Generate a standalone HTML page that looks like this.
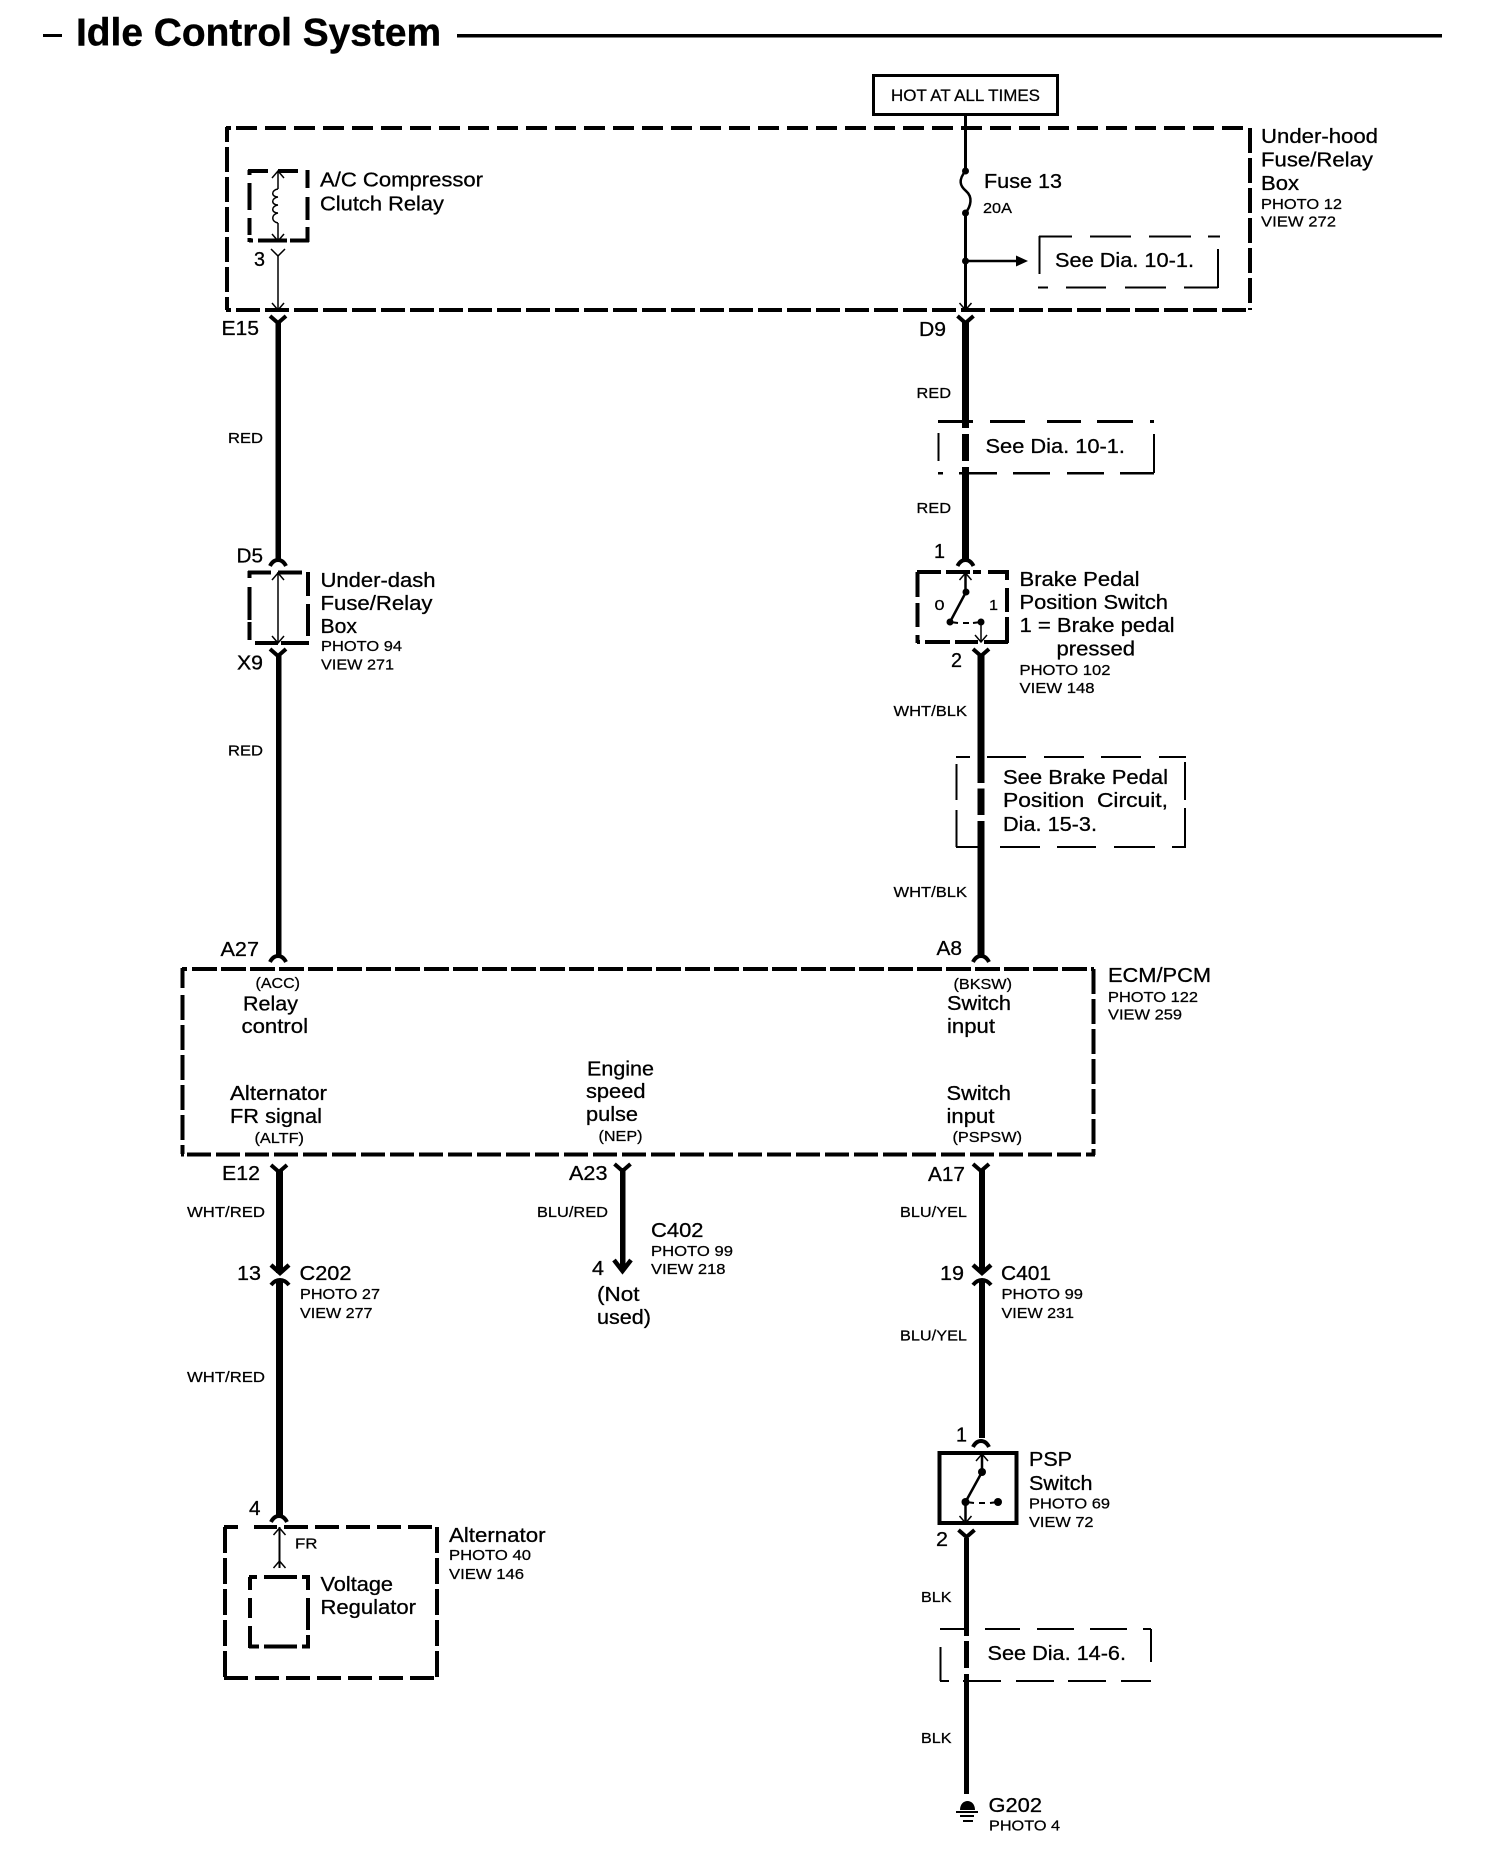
<!DOCTYPE html>
<html><head><meta charset="utf-8"><title>Idle Control System</title>
<style>
html,body{margin:0;padding:0;background:#fff}
svg{display:block}
text{font-family:"Liberation Sans",sans-serif;fill:#000;stroke:#000}
.t{font-size:39px;font-weight:bold;stroke-width:.4}
.m{font-size:20.5px;stroke-width:.3}
.s{font-size:15px;stroke-width:.25;transform:translateY(-1px)}
.h{font-size:16.5px;stroke-width:.25}
</style></head><body>
<svg width="1504" height="1852" viewBox="0 0 1504 1852" xmlns="http://www.w3.org/2000/svg">
<defs>
<path id="Y" d="M-8,0 L0,7 L8,0" fill="none" stroke="#000" stroke-width="4"/>
<path id="A" d="M-8,7 Q-5,1 0,1 Q5,1 8,7" fill="none" stroke="#000" stroke-width="4"/>
<path id="u" d="M-6,7 L0,0 L6,7" fill="none" stroke="#000" stroke-width="1.5"/>
<path id="d" d="M-6,-7 L0,0 L6,-7" fill="none" stroke="#000" stroke-width="1.5"/>
</defs>
<rect width="1504" height="1852" fill="#fff"/>

<!-- title -->
<rect x="43" y="34" width="19" height="3"/>
<text class="t" x="76" y="45.5" textLength="365" lengthAdjust="spacingAndGlyphs">Idle Control System</text>
<rect x="457" y="34" width="985" height="3.5"/>

<!-- hot box -->
<rect x="873.5" y="75.5" width="184" height="39" fill="none" stroke="#000" stroke-width="3"/>
<text class="h" x="891" y="101" textLength="149" lengthAdjust="spacingAndGlyphs">HOT AT ALL TIMES</text>

<g fill="none" stroke="#000" shape-rendering="crispEdges">
<!-- outer under-hood -->
<g stroke-width="4">
<path d="M236,128 H1250" stroke-dasharray="21 8"/>
<path d="M226,128 H231"/>
<path d="M227,127 V142"/>
<path d="M227,147 V310" stroke-dasharray="25 5"/>
<path d="M1250,128 V310" stroke-dasharray="25 5"/>
<path d="M236,310 H1251" stroke-dasharray="24 5"/>
<path d="M226,310 H231"/>
</g>
<!-- relay box -->
<g stroke-width="4">
<path d="M248,171 H268 M278,171 H298"/>
<path d="M307.5,170 V188 M307.5,197 V220 M307.5,227 V242"/>
<path d="M249.5,170 V175 M249.5,183 V210 M249.5,218 V235 M249.5,238 V242"/>
<path d="M249,240.5 H253 M258,240.5 H287 M290,240.5 H309"/>
</g>
<!-- under-dash box -->
<g stroke-width="4">
<path d="M248,572.5 H271 M278,572.5 H302"/>
<path d="M249.5,571 V578 M249.5,587 V620 M249.5,622 V640"/>
<path d="M308,572 V596 M308,604 V636"/>
<path d="M255,643 H278 M281,643 H309"/>
</g>
<!-- brake box -->
<g stroke-width="4">
<path d="M917,572 H941 M946,572 H970 M973,572 H981 M988,572 H1008"/>
<path d="M917.5,572 V597 M917.5,603 V627 M917.5,635 V643"/>
<path d="M1007,570 V580 M1007,588 V612 M1007,617 V643"/>
<path d="M917,642 H920 M925,642 H950 M955,642 H978 M984,642 H1008"/>
</g>
<!-- see dia boxes -->
<g stroke-width="2">
<path d="M1039,236.5 H1072 M1090,236.5 H1131 M1149,236.5 H1191 M1208,236.5 H1220"/>
<path d="M1039.5,236 V274"/>
<path d="M1218,249 V288"/>
<path d="M1038,287.5 H1048 M1066,287.5 H1106 M1125,287.5 H1166 M1184,287.5 H1218"/>

<path d="M938,421.5 H973 M990,421.5 H1025 M1047,421.5 H1081 M1097,421.5 H1133 M1150,421.5 H1154" stroke-width="3"/>
<path d="M938.5,433 V461"/>
<path d="M1154,434 V473"/>
<path d="M938,473 H943 M959,473 H997 M1013,473 H1050 M1067,473 H1104 M1120,473 H1154" stroke-width="2.5"/>

<path d="M956,757 H970 M987,757 H1026 M1044,757 H1084 M1101,757 H1141 M1159,757 H1186"/>
<path d="M956.5,764 V800 M956.5,810 V847"/>
<path d="M1185,762 V800 M1185,808 V847"/>
<path d="M956,847 H982 M1000,847 H1040 M1057,847 H1096 M1114,847 H1155 M1172,847 H1186"/>

<path d="M940,1629 H965 M985,1629 H1020 M1037,1629 H1074 M1090,1629 H1127 M1143,1629 H1151"/>
<path d="M940.5,1647 V1681"/>
<path d="M1151,1629 V1662"/>
<path d="M940,1681 H949 M963,1681 H1001 M1016,1681 H1054 M1068,1681 H1106 M1121,1681 H1151"/>
</g>
<!-- ECM -->
<g stroke-width="4">
<path d="M192,969 H1094" stroke-dasharray="25 4"/>
<path d="M182,969 H187"/>
<path d="M182.5,968 V988"/>
<path d="M182.5,995 V1154" stroke-dasharray="25 5"/>
<path d="M1093.5,969 V1155" stroke-dasharray="25 5"/>
<path d="M187,1154.5 H1095" stroke-dasharray="24 5"/>
<path d="M181,1154.5 H184"/>
</g>
<!-- alternator -->
<g stroke-width="4">
<path d="M224,1527 H238 M254,1527 H277 M284,1527 H437" stroke-dasharray="24 7"/>
<path d="M225,1527 V1678" stroke-dasharray="26 5"/>
<path d="M437,1527 V1678" stroke-dasharray="26 5"/>
<path d="M224,1678 H438" stroke-dasharray="24 7"/>
</g>
<g stroke-width="4">
<path d="M249,1577 H257 M264,1577 H297 M302,1577 H310"/>
<path d="M250,1577 V1590 M250,1598 V1618 M250,1626 V1648"/>
<path d="M308,1577 V1590 M308,1598 V1630 M308,1635 V1648"/>
<path d="M249,1646.5 H259 M264,1646.5 H297 M302,1646.5 H310"/>
</g>
<!-- PSP box -->
<rect x="939.5" y="1453" width="77" height="70" stroke-width="4"/>
</g>

<!-- wires -->
<g fill="#000" shape-rendering="crispEdges">
<rect x="275.5" y="322" width="5.5" height="240"/>
<rect x="276" y="654" width="5.5" height="304"/>
<rect x="962" y="322" width="7" height="106"/>
<rect x="962" y="434" width="7" height="27"/>
<rect x="962" y="467" width="7" height="93"/>
<rect x="977.5" y="654" width="7" height="129"/>
<rect x="977.5" y="788.5" width="7" height="26.5"/>
<rect x="977.5" y="821" width="7" height="136"/>
<rect x="276" y="1170" width="7" height="103"/>
<rect x="276" y="1281" width="7" height="237"/>
<rect x="620" y="1168" width="5.5" height="100"/>
<rect x="979" y="1170" width="6" height="103"/>
<rect x="979" y="1281" width="6" height="157"/>
<rect x="964" y="1538" width="5" height="98"/>
<rect x="964" y="1641" width="5" height="27"/>
<rect x="964" y="1674" width="5" height="120"/>
</g>

<!-- connectors -->
<use href="#Y" x="278" y="316"/>
<use href="#A" x="278" y="559"/>
<use href="#Y" x="278" y="649"/>
<use href="#A" x="278" y="955"/>
<use href="#Y" x="279" y="1165"/>
<use href="#A" x="279" y="1515"/>
<use href="#Y" x="622.5" y="1164"/>
<use href="#Y" x="981" y="1164"/>
<use href="#A" x="981" y="1440"/>
<use href="#Y" x="965.5" y="316"/>
<use href="#A" x="965.5" y="559"/>
<use href="#Y" x="981" y="649"/>
<use href="#A" x="981" y="955"/>
<use href="#Y" x="966.5" y="1530"/>
<path d="M614,1260 L622.5,1271 L631,1260" fill="none" stroke="#000" stroke-width="4.5"/>
<path d="M271,1265 L280,1273 L289,1265" fill="none" stroke="#000" stroke-width="4.5"/>
<path d="M271,1285 Q275,1280 280,1280 Q285,1280 289,1285" fill="none" stroke="#000" stroke-width="4"/>
<path d="M973,1265 L982,1273 L991,1265" fill="none" stroke="#000" stroke-width="4.5"/>
<path d="M973,1285 Q977,1280 982,1280 Q987,1280 991,1285" fill="none" stroke="#000" stroke-width="4"/>

<!-- relay internals -->
<g fill="none" stroke="#000">
<path d="M278,171 V189 M278,223 V241 M278,256 V310" stroke-width="1.5"/>
<path d="M278,189 C271,190 271,197 278,197 C271,198 271,205 278,205 C271,206 271,213 278,213 C271,214 271,222 278,223" stroke-width="1.5"/>
<path d="M278,572 V643" stroke-width="1.5"/>
<path d="M965.5,116 V171 M965.5,213 V310" stroke-width="3"/>
<path d="M965.5,171 C958,180 960,186 966,191 C973,197 971,206 965.5,213" stroke-width="2.5"/>
<path d="M966,261 H1018" stroke-width="2.5"/>
<path d="M965.5,572 V592 M966,592 L950,622" stroke-width="2.5"/>
<path d="M950,622 L958,623 M963,623 H969 M973,623 L981,622" stroke-width="2"/>
<path d="M981,622 V642" stroke-width="1.5"/>
<path d="M982,1453 V1472 L965.5,1502 V1523" stroke-width="2.5"/>
<path d="M966,1502 L974,1503 M979,1503 H985 M990,1503 L998,1502" stroke-width="2"/>
<path d="M279.5,1527 V1568" stroke-width="2"/>
</g>
<use href="#u" x="278" y="171"/>
<use href="#d" x="278" y="241"/>
<path d="M271,249 L278,256 L285,249" fill="none" stroke="#000" stroke-width="1.5"/>
<use href="#d" x="278" y="310"/>
<use href="#u" x="278" y="573"/>
<use href="#d" x="278" y="643"/>
<use href="#d" x="965.5" y="310"/>
<use href="#u" x="965.5" y="573"/>
<use href="#d" x="981" y="642"/>
<use href="#u" x="982" y="1454"/>
<use href="#d" x="965.5" y="1523"/>
<use href="#u" x="279.5" y="1528"/>
<use href="#u" x="279.5" y="1561"/>
<g fill="#000">
<circle cx="965.5" cy="171" r="3.5"/>
<circle cx="965.5" cy="213" r="3.5"/>
<circle cx="965.5" cy="261" r="3.5"/>
<path d="M1016,255.5 L1028,261 L1016,266.5 Z"/>
<circle cx="966" cy="592" r="3.5"/>
<circle cx="950" cy="622" r="3.5"/>
<circle cx="981" cy="622" r="3.5"/>
<circle cx="982" cy="1472" r="4"/>
<circle cx="965.5" cy="1502" r="4"/>
<circle cx="998" cy="1502" r="4"/>
<!-- ground -->
<path d="M960,1810 C960,1798 975,1798 975,1810 Z"/>
<rect x="956" y="1811" width="22" height="2"/>
<rect x="960" y="1815" width="14" height="2"/>
<rect x="963" y="1820" width="10" height="2"/>
</g>

<!-- labels -->
<text class="m" x="320" y="186.5" textLength="163" lengthAdjust="spacingAndGlyphs">A/C Compressor</text>
<text class="m" x="320" y="210.5" textLength="124" lengthAdjust="spacingAndGlyphs">Clutch Relay</text>
<text class="m" x="254" y="266" textLength="11" lengthAdjust="spacingAndGlyphs">3</text>
<text class="m" x="221.5" y="335" textLength="37.5" lengthAdjust="spacingAndGlyphs">E15</text>
<text class="s" x="228" y="444" textLength="35" lengthAdjust="spacingAndGlyphs">RED</text>
<text class="m" x="236.5" y="562.5" textLength="26.5" lengthAdjust="spacingAndGlyphs">D5</text>
<text class="m" x="320.5" y="587" textLength="115" lengthAdjust="spacingAndGlyphs">Under-dash</text>
<text class="m" x="320.5" y="610" textLength="112" lengthAdjust="spacingAndGlyphs">Fuse/Relay</text>
<text class="m" x="320.5" y="633" textLength="36.5" lengthAdjust="spacingAndGlyphs">Box</text>
<text class="s" x="321" y="652" textLength="81" lengthAdjust="spacingAndGlyphs">PHOTO 94</text>
<text class="s" x="321" y="670.5" textLength="73" lengthAdjust="spacingAndGlyphs">VIEW 271</text>
<text class="m" x="237" y="669.5" textLength="26" lengthAdjust="spacingAndGlyphs">X9</text>
<text class="s" x="228" y="756.5" textLength="35" lengthAdjust="spacingAndGlyphs">RED</text>
<text class="m" x="220.5" y="956" textLength="38.5" lengthAdjust="spacingAndGlyphs">A27</text>

<text class="m" x="984" y="188" textLength="78" lengthAdjust="spacingAndGlyphs">Fuse 13</text>
<text class="s" x="983" y="214" textLength="29" lengthAdjust="spacingAndGlyphs">20A</text>
<text class="m" x="1055" y="267" textLength="139" lengthAdjust="spacingAndGlyphs">See Dia. 10-1.</text>
<text class="m" x="1261" y="143" textLength="117" lengthAdjust="spacingAndGlyphs">Under-hood</text>
<text class="m" x="1261" y="166.5" textLength="112" lengthAdjust="spacingAndGlyphs">Fuse/Relay</text>
<text class="m" x="1261" y="190" textLength="38" lengthAdjust="spacingAndGlyphs">Box</text>
<text class="s" x="1261" y="210" textLength="81" lengthAdjust="spacingAndGlyphs">PHOTO 12</text>
<text class="s" x="1261" y="227.5" textLength="75" lengthAdjust="spacingAndGlyphs">VIEW 272</text>
<text class="m" x="919" y="336" textLength="27" lengthAdjust="spacingAndGlyphs">D9</text>
<text class="s" x="916.5" y="399" textLength="34.5" lengthAdjust="spacingAndGlyphs">RED</text>
<text class="m" x="985.5" y="453" textLength="139.5" lengthAdjust="spacingAndGlyphs">See Dia. 10-1.</text>
<text class="s" x="916.5" y="514" textLength="34.5" lengthAdjust="spacingAndGlyphs">RED</text>
<text class="m" x="934" y="558" textLength="11" lengthAdjust="spacingAndGlyphs">1</text>
<text class="m" x="1019.5" y="586" textLength="120" lengthAdjust="spacingAndGlyphs">Brake Pedal</text>
<text class="m" x="1019.5" y="609" textLength="148.5" lengthAdjust="spacingAndGlyphs">Position Switch</text>
<text class="m" x="1019.5" y="632" textLength="155" lengthAdjust="spacingAndGlyphs">1 = Brake pedal</text>
<text class="m" x="1056.5" y="655.5" textLength="78.5" lengthAdjust="spacingAndGlyphs">pressed</text>
<text class="s" x="1019.5" y="676" textLength="91" lengthAdjust="spacingAndGlyphs">PHOTO 102</text>
<text class="s" x="1019.5" y="694" textLength="75" lengthAdjust="spacingAndGlyphs">VIEW 148</text>
<text class="s" x="934.5" y="611" textLength="10" lengthAdjust="spacingAndGlyphs">0</text>
<text class="s" x="989" y="611" textLength="9" lengthAdjust="spacingAndGlyphs">1</text>
<text class="m" x="951" y="667" textLength="11" lengthAdjust="spacingAndGlyphs">2</text>
<text class="s" x="893.5" y="717" textLength="73.5" lengthAdjust="spacingAndGlyphs">WHT/BLK</text>
<text class="m" x="1003" y="784" textLength="165" lengthAdjust="spacingAndGlyphs">See Brake Pedal</text>
<text class="m" x="1003" y="807" textLength="165" lengthAdjust="spacingAndGlyphs">Position&#160; Circuit,</text>
<text class="m" x="1003" y="831" textLength="94" lengthAdjust="spacingAndGlyphs">Dia. 15-3.</text>
<text class="s" x="893.5" y="898" textLength="73.5" lengthAdjust="spacingAndGlyphs">WHT/BLK</text>
<text class="m" x="936.5" y="955" textLength="25.5" lengthAdjust="spacingAndGlyphs">A8</text>

<text class="s" x="255.5" y="989" textLength="44.5" lengthAdjust="spacingAndGlyphs">(ACC)</text>
<text class="m" x="243" y="1010.5" textLength="55" lengthAdjust="spacingAndGlyphs">Relay</text>
<text class="m" x="241.5" y="1033" textLength="66.5" lengthAdjust="spacingAndGlyphs">control</text>
<text class="m" x="230" y="1100" textLength="97" lengthAdjust="spacingAndGlyphs">Alternator</text>
<text class="m" x="230" y="1123" textLength="92" lengthAdjust="spacingAndGlyphs">FR signal</text>
<text class="s" x="254.5" y="1144" textLength="49.5" lengthAdjust="spacingAndGlyphs">(ALTF)</text>
<text class="m" x="587" y="1075.5" textLength="67" lengthAdjust="spacingAndGlyphs">Engine</text>
<text class="m" x="586" y="1098" textLength="59.5" lengthAdjust="spacingAndGlyphs">speed</text>
<text class="m" x="586" y="1121" textLength="52" lengthAdjust="spacingAndGlyphs">pulse</text>
<text class="s" x="598.5" y="1142" textLength="44" lengthAdjust="spacingAndGlyphs">(NEP)</text>
<text class="s" x="953.5" y="990" textLength="58.5" lengthAdjust="spacingAndGlyphs">(BKSW)</text>
<text class="m" x="947" y="1010" textLength="64" lengthAdjust="spacingAndGlyphs">Switch</text>
<text class="m" x="947" y="1033" textLength="48" lengthAdjust="spacingAndGlyphs">input</text>
<text class="m" x="946.5" y="1100" textLength="64.5" lengthAdjust="spacingAndGlyphs">Switch</text>
<text class="m" x="946.5" y="1123" textLength="48" lengthAdjust="spacingAndGlyphs">input</text>
<text class="s" x="952.5" y="1143" textLength="69.5" lengthAdjust="spacingAndGlyphs">(PSPSW)</text>
<text class="m" x="1108" y="982" textLength="103" lengthAdjust="spacingAndGlyphs">ECM/PCM</text>
<text class="s" x="1108" y="1003" textLength="90" lengthAdjust="spacingAndGlyphs">PHOTO 122</text>
<text class="s" x="1108" y="1020.5" textLength="74" lengthAdjust="spacingAndGlyphs">VIEW 259</text>

<text class="m" x="222" y="1180" textLength="38" lengthAdjust="spacingAndGlyphs">E12</text>
<text class="m" x="569" y="1180" textLength="38.5" lengthAdjust="spacingAndGlyphs">A23</text>
<text class="m" x="928" y="1181" textLength="37" lengthAdjust="spacingAndGlyphs">A17</text>
<text class="s" x="187" y="1218" textLength="78" lengthAdjust="spacingAndGlyphs">WHT/RED</text>
<text class="s" x="537" y="1218" textLength="71" lengthAdjust="spacingAndGlyphs">BLU/RED</text>
<text class="s" x="900" y="1218" textLength="67" lengthAdjust="spacingAndGlyphs">BLU/YEL</text>
<text class="m" x="237" y="1280" textLength="24" lengthAdjust="spacingAndGlyphs">13</text>
<text class="m" x="299.5" y="1280" textLength="52" lengthAdjust="spacingAndGlyphs">C202</text>
<text class="s" x="300" y="1300" textLength="80" lengthAdjust="spacingAndGlyphs">PHOTO 27</text>
<text class="s" x="300" y="1319" textLength="72.5" lengthAdjust="spacingAndGlyphs">VIEW 277</text>
<text class="s" x="187" y="1383" textLength="78" lengthAdjust="spacingAndGlyphs">WHT/RED</text>
<text class="m" x="249" y="1515" textLength="11.5" lengthAdjust="spacingAndGlyphs">4</text>
<text class="s" x="295" y="1549.5" textLength="22.5" lengthAdjust="spacingAndGlyphs">FR</text>
<text class="m" x="320.5" y="1591" textLength="72.5" lengthAdjust="spacingAndGlyphs">Voltage</text>
<text class="m" x="320.5" y="1614" textLength="95.5" lengthAdjust="spacingAndGlyphs">Regulator</text>
<text class="m" x="449" y="1542" textLength="96.5" lengthAdjust="spacingAndGlyphs">Alternator</text>
<text class="s" x="449" y="1561" textLength="82" lengthAdjust="spacingAndGlyphs">PHOTO 40</text>
<text class="s" x="449" y="1580" textLength="75" lengthAdjust="spacingAndGlyphs">VIEW 146</text>

<text class="m" x="651" y="1237" textLength="52.5" lengthAdjust="spacingAndGlyphs">C402</text>
<text class="s" x="651" y="1257" textLength="82" lengthAdjust="spacingAndGlyphs">PHOTO 99</text>
<text class="s" x="651" y="1275" textLength="74.5" lengthAdjust="spacingAndGlyphs">VIEW 218</text>
<text class="m" x="592" y="1275" textLength="12" lengthAdjust="spacingAndGlyphs">4</text>
<text class="m" x="597" y="1301" textLength="42.5" lengthAdjust="spacingAndGlyphs">(Not</text>
<text class="m" x="597" y="1324" textLength="54" lengthAdjust="spacingAndGlyphs">used)</text>

<text class="m" x="940" y="1280" textLength="24" lengthAdjust="spacingAndGlyphs">19</text>
<text class="m" x="1001" y="1280" textLength="50" lengthAdjust="spacingAndGlyphs">C401</text>
<text class="s" x="1001.5" y="1300" textLength="81.5" lengthAdjust="spacingAndGlyphs">PHOTO 99</text>
<text class="s" x="1001.5" y="1319" textLength="72.5" lengthAdjust="spacingAndGlyphs">VIEW 231</text>
<text class="s" x="900" y="1341.5" textLength="67" lengthAdjust="spacingAndGlyphs">BLU/YEL</text>
<text class="m" x="956" y="1441.5" textLength="11" lengthAdjust="spacingAndGlyphs">1</text>
<text class="m" x="1029" y="1466" textLength="43" lengthAdjust="spacingAndGlyphs">PSP</text>
<text class="m" x="1029" y="1490" textLength="63.5" lengthAdjust="spacingAndGlyphs">Switch</text>
<text class="s" x="1029" y="1509.5" textLength="81" lengthAdjust="spacingAndGlyphs">PHOTO 69</text>
<text class="s" x="1029" y="1528" textLength="64.5" lengthAdjust="spacingAndGlyphs">VIEW 72</text>
<text class="m" x="936" y="1546" textLength="12" lengthAdjust="spacingAndGlyphs">2</text>
<text class="s" x="921" y="1603" textLength="30.5" lengthAdjust="spacingAndGlyphs">BLK</text>
<text class="m" x="987.5" y="1660" textLength="138.5" lengthAdjust="spacingAndGlyphs">See Dia. 14-6.</text>
<text class="s" x="921" y="1744" textLength="30.5" lengthAdjust="spacingAndGlyphs">BLK</text>
<text class="m" x="988.5" y="1812" textLength="53.5" lengthAdjust="spacingAndGlyphs">G202</text>
<text class="s" x="989" y="1831.5" textLength="71" lengthAdjust="spacingAndGlyphs">PHOTO 4</text>
</svg>
</body></html>
